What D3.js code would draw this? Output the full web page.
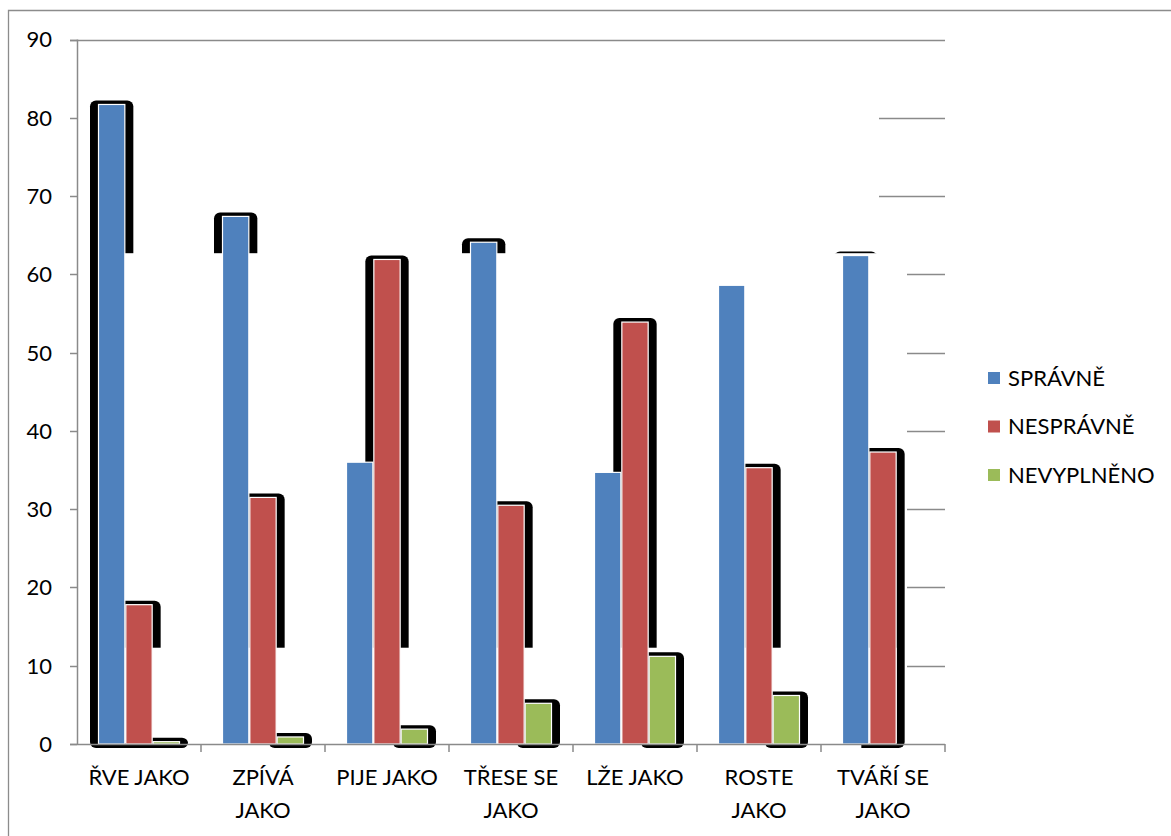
<!DOCTYPE html>
<html>
<head>
<meta charset="utf-8">
<script src="https://cdn.jsdelivr.net/npm/d3@7"></script>
<style>
  body { margin: 0; background: #fff; }
  text { font-family: Lato, "Open Sans", sans-serif; fill: #000; }
</style>
</head>
<body>
<div id="chart"></div>
<script>
// Data
const categories = ["ŘVE JAKO", "ZPÍVÁ JAKO", "PIJE JAKO", "TŘESE SE JAKO", "LŽE JAKO", "ROSTE JAKO", "TVÁŘÍ SE JAKO"];
const categoryLines = [["ŘVE JAKO"], ["ZPÍVÁ", "JAKO"], ["PIJE JAKO"], ["TŘESE SE", "JAKO"], ["LŽE JAKO"], ["ROSTE", "JAKO"], ["TVÁŘÍ SE", "JAKO"]];
const seriesNames = ["SPRÁVNĚ", "NESPRÁVNĚ", "NEVYPLNĚNO"];
const spravne = [81.7, 67.4, 36.0, 64.1, 34.7, 58.6, 62.4];
const nespravne = [17.8, 31.5, 61.9, 30.5, 53.9, 35.3, 37.3];
const nevyplneno = [0.3, 0.9, 1.9, 5.2, 11.2, 6.2, 0];
const yTicks = [0, 10, 20, 30, 40, 50, 60, 70, 80, 90];
const colors = ["#4F81BD", "#C0504D", "#9BBB59"];

const values = [spravne, nespravne, nevyplneno];

// Layout
const W = 1171, H = 836;
const plot = { left: 77, right: 945, top: 39.5, bottom: 744 };

const svg = d3.select("#chart")
    .append("svg")
    .attr("width", W)
    .attr("height", H);

// Outer frame (left and top edges visible)
svg.append("path")
    .attr("d", `M8.5,${H} L8.5,10.5 L${W},10.5`)
    .attr("fill", "none")
    .attr("stroke", "#8c8c8c")
    .attr("stroke-width", 1.3);

// Scales
const x0 = d3.scaleBand()
    .domain(categories)
    .range([plot.left, plot.right]);

const groupW = 82;
const x1 = d3.scaleBand()
    .domain(seriesNames)
    .range([0, groupW]);

const y = d3.scaleLinear()
    .domain([0, 90])
    .range([plot.bottom, plot.top]);

const barX = (ci, si) => x0(categories[ci]) + (x0.bandwidth() - groupW) / 2 + x1(seriesNames[si]);

// Gridlines (partly hidden in the original rendering)
yTicks.filter(v => v > 0).forEach(v => {
    const start = v === 90 ? plot.left - 7 : (v >= 70 ? plot.right - 66 : plot.right - 38);
    svg.append("line")
        .attr("x1", start).attr("x2", plot.right)
        .attr("y1", Math.round(y(v)) + 0.5).attr("y2", Math.round(y(v)) + 0.5)
        .attr("stroke", "#8a8a8a")
        .attr("stroke-width", 1.5);
});

// Shadow masks: blue and red shadows are hidden inside a region
const shadowPad = 8;
const last = categories.length - 1;
const maskLeft = barX(0, 0);
const maskRight = barX(last, 1) + x1.bandwidth();
const bottomLeft = x0(categories[1]);
const bottomRight = barX(last, 1) - shadowPad;
const defs = svg.append("defs");
const maskTops = [y(62.7), y(12.3), null];
maskTops.forEach((top, si) => {
    if (top === null) return;
    const m = defs.append("mask")
        .attr("id", "shadowMask" + si)
        .attr("maskUnits", "userSpaceOnUse")
        .attr("x", 0).attr("y", 0).attr("width", W).attr("height", H);
    m.append("rect").attr("x", 0).attr("y", 0).attr("width", W).attr("height", H).attr("fill", "#fff");
    m.append("rect")
        .attr("x", maskLeft).attr("y", top)
        .attr("width", maskRight - maskLeft)
        .attr("height", plot.bottom - 1 - top)
        .attr("fill", "#000");
    m.append("rect")
        .attr("x", bottomLeft).attr("y", plot.bottom - 2)
        .attr("width", bottomRight - bottomLeft)
        .attr("height", 20)
        .attr("fill", "#000");
});

// Shadows
values.forEach((vals, si) => {
    const g = svg.append("g");
    if (maskTops[si] !== null) g.attr("mask", `url(#shadowMask${si})`);
    g.selectAll("rect")
        .data(vals.map((v, i) => ({ v, i })).filter(d => d.v > 0))
        .join("rect")
        .attr("x", d => barX(d.i, si) - shadowPad)
        .attr("y", d => y(d.v) - 4)
        .attr("width", x1.bandwidth() + shadowPad * 2)
        .attr("height", d => plot.bottom - y(d.v) + 8)
        .attr("rx", 6)
        .attr("fill", "#000");
});

// Bars
values.forEach((vals, si) => {
    svg.append("g")
        .selectAll("rect")
        .data(vals)
        .join("rect")
        .attr("x", (d, i) => barX(i, si) + 0.5)
        .attr("y", d => y(d))
        .attr("width", x1.bandwidth() - 1)
        .attr("height", d => plot.bottom - y(d))
        .attr("fill", colors[si])
        .attr("stroke", "#fff")
        .attr("stroke-width", 1.2);
});

// Y axis
svg.append("line")
    .attr("x1", plot.left + 0.5).attr("x2", plot.left + 0.5)
    .attr("y1", plot.top).attr("y2", plot.bottom)
    .attr("stroke", "#8a8a8a").attr("stroke-width", 1.5);

yTicks.forEach(v => {
    svg.append("line")
        .attr("x1", plot.left - 7).attr("x2", plot.left)
        .attr("y1", Math.round(y(v)) + 0.5).attr("y2", Math.round(y(v)) + 0.5)
        .attr("stroke", "#8a8a8a").attr("stroke-width", 1.5);
    svg.append("text")
        .attr("x", 52)
        .attr("y", y(v))
        .attr("dy", "0.36em")
        .attr("text-anchor", "end")
        .style("font-size", "22px")
        .text(v);
});

// X axis
svg.append("line")
    .attr("x1", plot.left - 7).attr("x2", plot.right)
    .attr("y1", plot.bottom + 0.5).attr("y2", plot.bottom + 0.5)
    .attr("stroke", "#8a8a8a").attr("stroke-width", 1.5);

categories.forEach((c, i) => {
    const tx = x0(c) + x0.bandwidth();
    svg.append("line")
        .attr("x1", tx).attr("x2", tx)
        .attr("y1", plot.bottom).attr("y2", plot.bottom + 8)
        .attr("stroke", "#8a8a8a").attr("stroke-width", 1.5);

    const t = svg.append("text")
        .attr("text-anchor", "middle")
        .style("font-size", "22px");
    categoryLines[i].forEach((line, li) => {
        t.append("tspan")
            .attr("x", x0(c) + x0.bandwidth() / 2)
            .attr("y", 785 + li * 33)
            .text(line);
    });
});

// Legend
const legend = svg.append("g")
    .attr("transform", "translate(988,378)");

seriesNames.forEach((s, i) => {
    const row = legend.append("g").attr("transform", `translate(0,${i * 48.5})`);
    row.append("rect")
        .attr("x", 0).attr("y", -6)
        .attr("width", 12).attr("height", 12)
        .attr("fill", colors[i]);
    row.append("text")
        .attr("x", 20).attr("y", 0)
        .attr("dy", "0.36em")
        .style("font-size", "22px")
        .text(s);
});
</script>
</body>
</html>
